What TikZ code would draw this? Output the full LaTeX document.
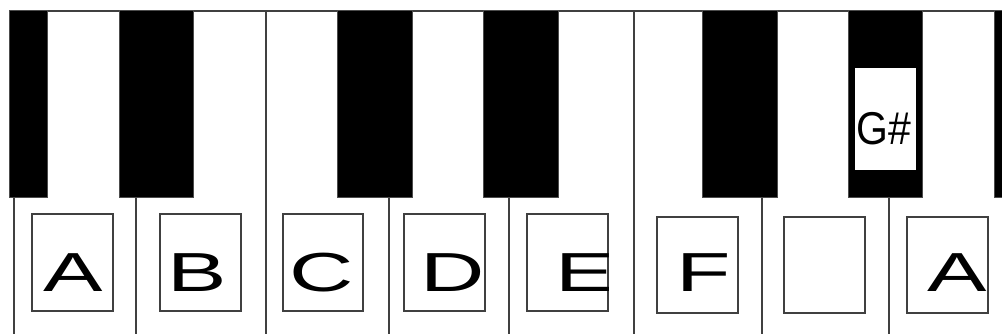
\documentclass[tikz,border=0pt]{standalone}
\usepackage{fontspec}
\setmainfont{Liberation Sans}
\begin{document}
\begin{tikzpicture}[x=1pt,y=-1pt,
  keyline/.style={draw=black!75,line width=1.1pt},
  blackkey/.style={fill=black,draw=black!70,line width=1pt},
  letterbox/.style={draw=black!75,line width=1.1pt,fill=white},
  letter/.style={inner sep=0pt,anchor=base west,font=\fontsize{55}{60}\selectfont},
  sharpbox/.style={fill=white,draw=black,line width=0.8pt},
  sharp/.style={inner sep=0pt,anchor=base west,font=\fontsize{46}{50}\selectfont}]
\useasboundingbox (0,0) rectangle (1002,334);
\fill[white] (0,0) rectangle (1002,334);
% white key dividers
\foreach \x in {14,136,389,509,762,889} \draw[keyline] (\x,198) -- (\x,335);
\foreach \x in {266,634} \draw[keyline] (\x,11) -- (\x,335);
\draw[keyline] (9,11) -- (1003,11);
% black keys
\foreach \a/\b in {9/47,119/193,337/412,483/558,702/777,848/922,994/1006}
  \draw[blackkey] (\a,11) rectangle (\b,198);
% G# label
\node[sharpbox,minimum width=62pt,minimum height=103pt,inner sep=0pt] (gs) at (885,118.5) {};
\node[sharp] (gst) at (856,145) {\scalebox{0.89}[1]{G\#}};
% letter boxes
\foreach \n/\a/\b/\t/\u/\lx/\l in {
  bA/32/113/214/311/43/A,
  bB/160/241/214/311/167/B,
  bC/283/363/214/311/289/C,
  bD/404/485/214/311/420/D,
  bE/527/608/214/311/555/E,
  bF/657/738/217/313/676/F,
  bG/784/865/217/313/0/{},
  bH/907/988/217/313/927/A}{
  \node[letterbox,minimum width={\b-\a},minimum height={\u-\t},inner sep=0pt] (\n) at ({(\a+\b)/2},{(\t+\u)/2}) {};
  \begin{scope}
    \clip (\n.south west) rectangle (\n.north east);
    \node[letter] (\n t) at (\lx,291) {\scalebox{1.62}[1]{\l}};
  \end{scope}
}
\end{tikzpicture}
\end{document}
